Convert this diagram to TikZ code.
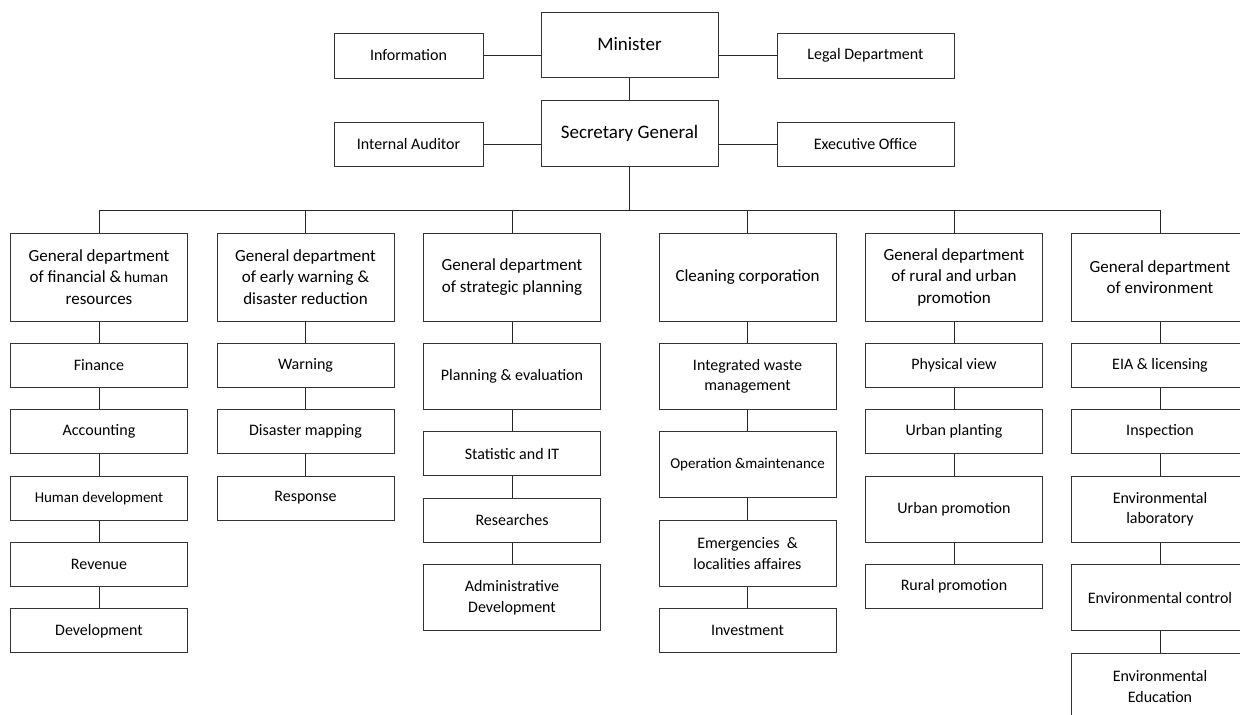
\documentclass[tikz,border=0pt]{standalone}
\usepackage{fontspec}
\setmainfont{Carlito}
\begin{document}
\begin{tikzpicture}[x=1pt,y=-1pt,
  box/.style={draw=black!80, line width=1pt, fill=white, minimum width=177pt,
    align=center, inner sep=2pt, font=\fontsize{16}{20.5}\selectfont},
  narrow/.style={minimum width=149pt},
  short/.style={minimum height=44pt},
  tall/.style={minimum height=66pt},
  chief/.style={minimum height=66pt, font=\fontsize{19}{23}\selectfont},
  head/.style={minimum height=88pt, font=\fontsize{17}{21.5}\selectfont},
  link/.style={draw=black!85, line width=0.9pt}]
\useasboundingbox (0,0) rectangle (1240,715);
\clip (0,0) rectangle (1240,715);

% leadership
\node[box,chief,minimum height=65pt] (min) at (629.5,44.5) {Minister};
\node[box,narrow,short,minimum height=45pt] (info) at (408.5,55.5) {Information};
\node[box,short,minimum height=45pt] (legal) at (865.5,55.5) {Legal Department};
\node[box,chief] (sg) at (629.5,133) {Secretary General};
\node[box,narrow,short] (audit) at (408.5,144) {Internal Auditor};
\node[box,short] (exec) at (865.5,144) {Executive Office};

\draw[link] (info.east) -- (info.east -| min.west);
\draw[link] (legal.west) -- (legal.west -| min.east);
\draw[link] (audit.east) -- (audit.east -| sg.west);
\draw[link] (exec.west) -- (exec.west -| sg.east);
\draw[link] (min.south) -- (sg.north);

% distribution bus
\coordinate (b1) at (99,210);
\coordinate (b2) at (305.5,210);
\coordinate (b3) at (512,210);
\coordinate (b4) at (747.5,210);
\coordinate (b5) at (954,210);
\coordinate (b6) at (1160,210);
\coordinate (bsg) at (629.5,210);
\draw[link] (sg.south) -- (bsg);
\draw[link] (b1) -- (b6);

% general departments
\node[box,head] (h1) at (99,277) {General department\\of financial \&\,{\fontsize{15.5}{21.5}\selectfont human}\\resources};
\node[box,head] (h2) at (305.5,277) {General department\\of early warning \&\\disaster reduction};
\node[box,head] (h3) at (512,277) {General department\\of strategic planning};
\node[box,head] (h4) at (747.5,277) {Cleaning corporation};
\node[box,head] (h5) at (954,277) {General department\\of rural and urban\\promotion};
\node[box,head] (h6) at (1160,277) {General department\\of environment};
\foreach \i in {1,...,6} \draw[link] (b\i) -- (h\i.north);

% column 1
\node[box,short] (f1) at (99,365) {Finance};
\node[box,short] (f2) at (99,431.7) {Accounting};
\node[box,short,font=\fontsize{15}{19}\selectfont] (f3) at (99,498) {Human development};
\node[box,short] (f4) at (99,564.7) {Revenue};
\node[box,short] (f5) at (99,630.8) {Development};
\draw[link] (h1) -- (f1) (f1) -- (f2) (f2) -- (f3) (f3) -- (f4) (f4) -- (f5);

% column 2
\node[box,short] (w1) at (305.5,365) {Warning};
\node[box,short] (w2) at (305.5,431.7) {Disaster mapping};
\node[box,short] (w3) at (305.5,498) {Response};
\draw[link] (h2) -- (w1) (w1) -- (w2) (w2) -- (w3);

% column 3
\node[box,tall] (s1) at (512,376.2) {Planning \& evaluation};
\node[box,short] (s2) at (512,453.8) {Statistic and IT};
\node[box,short] (s3) at (512,520) {Researches};
\node[box,tall] (s4) at (512,597.7) {Administrative\\Development};
\draw[link] (h3) -- (s1) (s1) -- (s2) (s2) -- (s3) (s3) -- (s4);

% column 4
\node[box,tall] (c1) at (747.5,376.2) {Integrated waste\\management};
\node[box,tall,font=\fontsize{15}{19}\selectfont] (c2) at (747.5,464.8) {Operation \&maintenance};
\node[box,tall] (c3) at (747.5,553.5) {Emergencies \ \&\\localities affaires};
\node[box,short] (c4) at (747.5,630.8) {Investment};
\draw[link] (h4) -- (c1) (c1) -- (c2) (c2) -- (c3) (c3) -- (c4);

% column 5
\node[box,short] (r1) at (954,365) {Physical view};
\node[box,short] (r2) at (954,431.7) {Urban planting};
\node[box,tall] (r3) at (954,509) {Urban promotion};
\node[box,short] (r4) at (954,586.5) {Rural promotion};
\draw[link] (h5) -- (r1) (r1) -- (r2) (r2) -- (r3) (r3) -- (r4);

% column 6
\node[box,short] (e1) at (1160,365) {EIA \& licensing};
\node[box,short] (e2) at (1160,431.7) {Inspection};
\node[box,tall] (e3) at (1160,509) {Environmental\\laboratory};
\node[box,tall] (e4) at (1160,597.7) {Environmental control};
\node[box,tall] (e5) at (1160,686.5) {Environmental\\Education};
\draw[link] (h6) -- (e1) (e1) -- (e2) (e2) -- (e3) (e3) -- (e4) (e4) -- (e5);
\end{tikzpicture}
\end{document}
